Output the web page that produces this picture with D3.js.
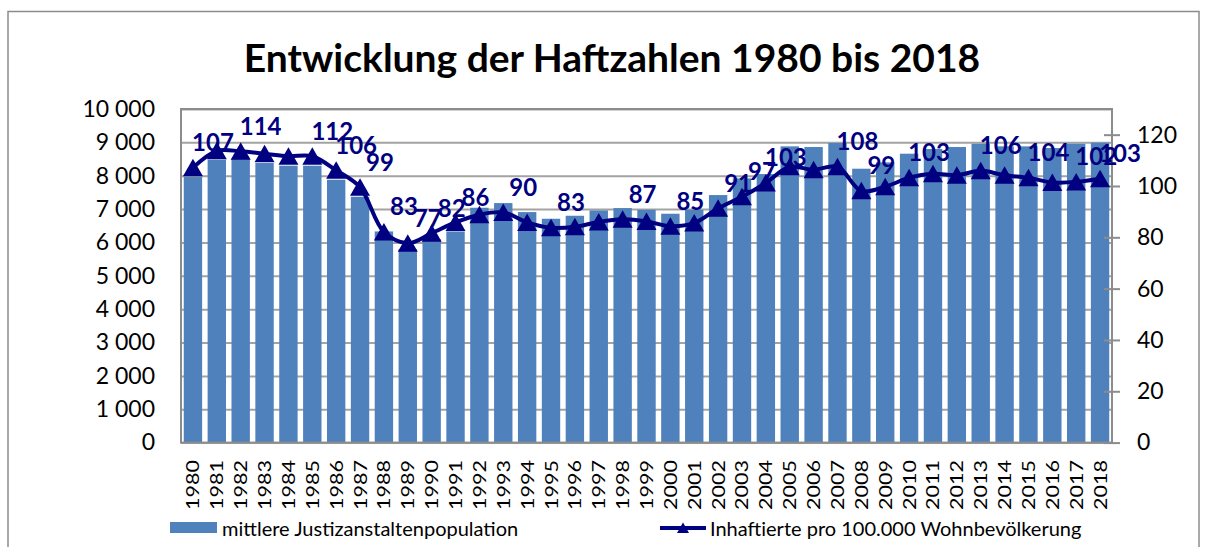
<!DOCTYPE html>
<html>
<head>
<meta charset="utf-8">
<script src="https://cdn.jsdelivr.net/npm/d3@7"></script>
<style>
  body { margin: 0; background: #fff; }
  text { font-family: Lato, "Open Sans", sans-serif; }
</style>
</head>
<body>
<svg width="1206" height="547"></svg>
<script>
const years = [1980, 1981, 1982, 1983, 1984, 1985, 1986, 1987, 1988, 1989,
  1990, 1991, 1992, 1993, 1994, 1995, 1996, 1997, 1998, 1999,
  2000, 2001, 2002, 2003, 2004, 2005, 2006, 2007, 2008, 2009,
  2010, 2011, 2012, 2013, 2014, 2015, 2016, 2017, 2018];

// mittlere Justizanstaltenpopulation (left axis)
const population = [7960, 8480, 8520, 8380, 8300, 8300, 7880, 7370, 6330, 5800,
  6100, 6330, 7040, 7180, 6910, 6710, 6800, 6960, 7030, 6980,
  6860, 6980, 7420, 7920, 8050, 8880, 8860, 8980, 8210, 8400,
  8660, 8800, 8860, 8960, 8880, 8880, 8830, 8960, 8990];

// Inhaftierte pro 100.000 Wohnbevoelkerung (right axis)
const rate = [107.1, 113.7, 113.5, 112.6, 111.6, 111.6, 106.1, 99.5, 82.1, 77.7,
  81.6, 85.8, 88.8, 89.7, 85.8, 83.7, 84.1, 86.0, 87.0, 86.2,
  84.3, 85.6, 91.3, 95.8, 101.2, 107.5, 106.3, 107.5, 98.1, 99.7,
  103.2, 104.8, 104.2, 105.9, 104.2, 103.2, 101.4, 101.6, 102.8];

// data labels as they appear on the chart
const labelYears = [1980, 1982, 1985, 1986, 1987, 1988, 1989, 1990, 1991, 1993,
  1995, 1998, 2000, 2002, 2003, 2004, 2007, 2008, 2010, 2013, 2015, 2017, 2018];
const labelTexts = ["107", "114", "112", "106", "99", "83", "77", "82", "86", "90",
  "83", "87", "85", "91", "97", "103", "108", "99", "103", "106", "104", "102", "103"];

const leftTicks = [0, 1000, 2000, 3000, 4000, 5000, 6000, 7000, 8000, 9000, 10000];
const rightTicks = [0, 20, 40, 60, 80, 100, 120];

const title = "Entwicklung der Haftzahlen 1980 bis 2018";
const legendBar = "mittlere Justizanstaltenpopulation";
const legendLine = "Inhaftierte pro 100.000 Wohnbevölkerung";

const BAR = "#4f81bd", NAVY = "#000080", GRID = "#a3a3a3";
const plot = {left: 181, right: 1112, top: 109, bottom: 442.6};

const svg = d3.select("svg");
const loc = d3.formatLocale({decimal: ",", thousands: " ", grouping: [3], currency: ["", ""]});
const fmt = loc.format(",d");

// outer frame
svg.append("rect").attr("x", 8).attr("y", 11.5).attr("width", 1191).attr("height", 560)
  .attr("fill", "none").attr("stroke", "#8c8c8c").attr("stroke-width", 1.5);

const x = d3.scaleBand().domain(years).range([plot.left, plot.right]);
const y = d3.scaleLinear().domain([0, 10000]).range([plot.bottom, plot.top]);
const yR = d3.scaleLinear().domain([0, 130]).range([plot.bottom, plot.top]);

// gridlines
svg.append("g")
  .attr("transform", `translate(${plot.left},0)`)
  .call(d3.axisLeft(y).tickValues(leftTicks).tickSize(-(plot.right - plot.left)).tickFormat(""))
  .call(g => g.select(".domain").remove())
  .call(g => g.selectAll("line").attr("stroke", GRID).attr("stroke-width", 2));

// left axis labels
svg.append("g")
  .attr("transform", `translate(${plot.left},0)`)
  .call(d3.axisLeft(y).tickValues(leftTicks).tickSize(0).tickPadding(26).tickFormat(fmt))
  .call(g => g.select(".domain").remove())
  .call(g => g.selectAll("text").attr("font-size", 23).attr("fill", "#000")
    .attr("font-family", "Lato, sans-serif"));

// bars
const bw = x.bandwidth() * 0.77;
svg.append("g").selectAll("rect")
  .data(years)
  .join("rect")
  .attr("x", (d) => x(d) + (x.bandwidth() - bw) / 2)
  .attr("y", (d, i) => y(population[i]))
  .attr("width", bw)
  .attr("height", (d, i) => y(0) - y(population[i]))
  .attr("fill", BAR);

// plot frame
svg.append("rect")
  .attr("x", plot.left).attr("y", plot.top)
  .attr("width", plot.right - plot.left).attr("height", plot.bottom - plot.top)
  .attr("fill", "none").attr("stroke", "#8c8c8c").attr("stroke-width", 2);

// right axis
svg.append("g")
  .attr("transform", `translate(${plot.right},0)`)
  .call(d3.axisRight(yR).tickValues(rightTicks).tickSize(8).tickPadding(17))
  .call(g => g.select(".domain").remove())
  .call(g => g.selectAll("line").attr("x1", -8).attr("stroke", "#8c8c8c").attr("stroke-width", 2))
  .call(g => g.selectAll("text").attr("font-size", 23).attr("fill", "#000")
    .attr("font-family", "Lato, sans-serif"));

// year labels
const cx = (d) => x(d) + x.bandwidth() / 2;
svg.append("g").selectAll("text")
  .data(years)
  .join("text")
  .attr("transform", (d) => `translate(${cx(d)},460) rotate(-90)`)
  .attr("text-anchor", "end")
  .attr("dominant-baseline", "central")
  .attr("font-size", 17.5)
  .attr("textLength", 50)
  .attr("lengthAdjust", "spacingAndGlyphs")
  .text((d) => d);

// data labels (under the line, as in the source)
const idx = (yr) => years.indexOf(yr);
svg.append("g").selectAll("text")
  .data(labelYears)
  .join("text")
  .attr("x", (d) => cx(d) + 20)
  .attr("y", (d) => yR(rate[idx(d)]) - 26)
  .attr("text-anchor", "middle")
  .attr("dominant-baseline", "central")
  .attr("font-size", 24)
  .attr("font-weight", "bold")
  .attr("fill", NAVY)
  .text((d, i) => labelTexts[i]);

// line
const line = d3.line()
  .x((d) => cx(d))
  .y((d, i) => yR(rate[i]))
  .curve(d3.curveCatmullRom.alpha(0.5));
svg.append("path")
  .attr("d", line(years))
  .attr("fill", "none")
  .attr("stroke", NAVY)
  .attr("stroke-width", 4);

const tri = "M0,-9L10,8.5L-10,8.5Z";
svg.append("g").selectAll("path")
  .data(years)
  .join("path")
  .attr("transform", (d, i) => `translate(${cx(d)},${yR(rate[i])})`)
  .attr("d", tri)
  .attr("fill", NAVY);

// title
svg.append("text")
  .attr("x", 612).attr("y", 72)
  .attr("text-anchor", "middle")
  .attr("font-size", 39)
  .attr("font-weight", "bold")
  .text(title);

// legend
svg.append("rect").attr("x", 170).attr("y", 522).attr("width", 47).attr("height", 11).attr("fill", BAR);
svg.append("text").attr("x", 222).attr("y", 528).attr("dominant-baseline", "central")
  .attr("font-size", 20).text(legendBar);
svg.append("line").attr("x1", 660).attr("x2", 706).attr("y1", 528).attr("y2", 528)
  .attr("stroke", NAVY).attr("stroke-width", 4);
svg.append("path").attr("transform", "translate(683,528) scale(0.6)").attr("d", tri).attr("fill", NAVY);
svg.append("text").attr("x", 710).attr("y", 528).attr("dominant-baseline", "central")
  .attr("font-size", 20).text(legendLine);
</script>
</body>
</html>
